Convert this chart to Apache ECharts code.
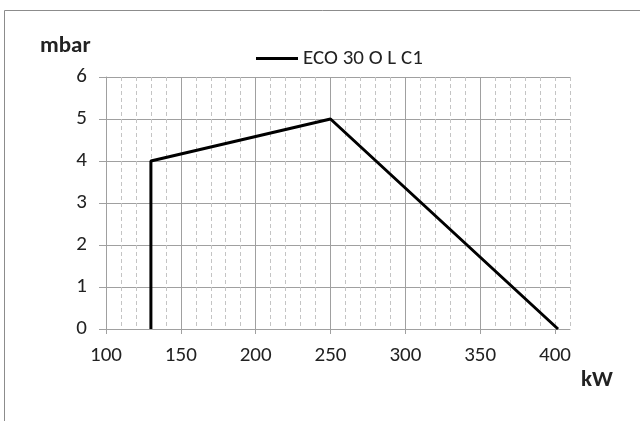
<!DOCTYPE html>
<html>
<head>
<meta charset="utf-8">
<script src="https://cdn.jsdelivr.net/npm/echarts@6/dist/echarts.min.js"></script>
<style>
  html, body { margin: 0; padding: 0; background: #fff; }
  #chart { width: 640px; height: 421px; }
</style>
</head>
<body>
<div id="chart"></div>
<script>
    // values
    var seriesName = 'ECO 30 O L C1';
    var powerKw = [130, 130, 250, 402];
    var pressureMbar = [0, 4, 5, 0];
    var xTicks = [100, 150, 200, 250, 300, 350, 400];
    var yTicks = [0, 1, 2, 3, 4, 5, 6];

    var font = 'Carlito, "Open Sans", sans-serif';
    var points = powerKw.map(function (x, i) { return [x, pressureMbar[i]]; });

    var chart = echarts.init(document.getElementById('chart'));
    chart.setOption({
        animation: false,
        grid: { left: 106, right: 70, top: 77, bottom: 92 },
        legend: {
            left: 251,
            top: 43,
            icon: 'rect',
            itemWidth: 42,
            itemHeight: 3,
            data: [seriesName],
            itemStyle: { color: '#000' },
            textStyle: { fontFamily: font, fontSize: 21, color: '#222' }
        },
        graphic: [
            {
                type: 'rect',
                shape: { x: 4.5, y: 10.5, width: 700, height: 500 },
                style: { fill: 'none', stroke: '#8c8c8c', lineWidth: 1 },
                silent: true
            },
            {
                type: 'text',
                style: { x: 40, y: 46, text: 'mbar', font: 'bold 23px ' + font, fill: '#222', verticalAlign: 'middle' }
            },
            {
                type: 'text',
                style: { x: 581, y: 380, text: 'kW', font: 'bold 23px ' + font, fill: '#222', verticalAlign: 'middle' }
            }
        ],
        xAxis: [
            {
                type: 'value',
                min: 100,
                max: 410,
                interval: 50,
                axisLine: { show: true, lineStyle: { color: '#a0a0a0', width: 1 } },
                axisTick: { show: true, length: 5, customValues: xTicks, lineStyle: { color: '#a0a0a0' } },
                axisLabel: { customValues: xTicks, margin: 16, fontFamily: font, fontSize: 21, color: '#222' },
                splitLine: { show: true, showMaxLine: false, lineStyle: { color: '#a0a0a0', width: 1 } },
                z: 2
            },
            {
                type: 'value',
                min: 100,
                max: 410,
                interval: 10,
                position: 'bottom',
                axisLine: { show: false },
                axisTick: { show: false },
                axisLabel: { show: false },
                splitLine: { show: true, lineStyle: { color: '#c4c4c4', width: 1, type: [4, 3] } },
                z: 1
            }
        ],
        yAxis: {
            type: 'value',
            min: 0,
            max: 6,
            interval: 1,
            axisLine: { show: true, lineStyle: { color: '#a0a0a0', width: 1 } },
            axisTick: { show: true, length: 7, customValues: yTicks, lineStyle: { color: '#a0a0a0' } },
            axisLabel: { margin: 19, fontFamily: font, fontSize: 21, color: '#222' },
            splitLine: { show: true, lineStyle: { color: '#a0a0a0', width: 1 } }
        },
        series: [
            {
                name: seriesName,
                type: 'line',
                xAxisIndex: 0,
                symbol: 'none',
                lineStyle: { color: '#000', width: 3 },
                itemStyle: { color: '#000' },
                data: points,
                z: 5
            }
        ]
    });
</script>
</body>
</html>
